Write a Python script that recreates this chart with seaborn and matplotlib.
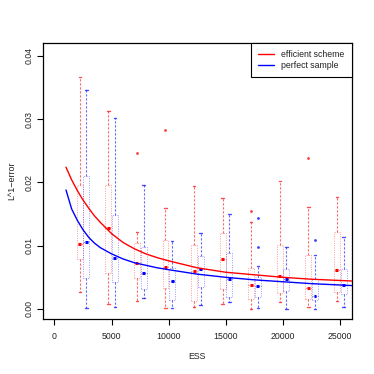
import matplotlib
matplotlib.use("Agg")
import matplotlib.pyplot as plt
from matplotlib.lines import Line2D
import seaborn as sns
import pandas as pd

# ---------------- data ----------------
ess_levels = [2500, 5000, 7500, 10000, 12500, 15000, 17500, 20000, 22500, 25000]

# efficient scheme (red) box statistics
eff_whislo = [0.00273, 0.00079, 0.00131, 0.00011, 0.00027, 0.00079, 0.00003, 0.00111, 0.00036, 0.00122]
eff_q1     = [0.00790, 0.00573, 0.00485, 0.00327, 0.00126, 0.00311, 0.00158, 0.00248, 0.00158, 0.00269]
eff_med    = [0.01022, 0.01272, 0.00724, 0.00668, 0.00605, 0.00795, 0.00379, 0.00521, 0.00336, 0.00616]
eff_q3     = [0.01959, 0.01959, 0.01047, 0.01090, 0.01011, 0.01196, 0.00643, 0.01011, 0.00853, 0.01224]
eff_whishi = [0.03665, 0.03133, 0.01209, 0.01591, 0.01935, 0.01757, 0.01379, 0.02027, 0.01619, 0.01777]
eff_fliers = [[], [], [0.0246], [0.0283], [], [], [0.01553], [], [0.02381], []]

# perfect sample (blue) box statistics
perf_whislo = [0.00021, 0.00036, 0.00174, 0.00011, 0.00063, 0.00106, 0.00011, 0.00000, 0.00005, 0.00032]
perf_q1     = [0.00485, 0.00419, 0.00321, 0.00142, 0.00352, 0.00194, 0.00182, 0.00284, 0.00142, 0.00237]
perf_med    = [0.01058, 0.00810, 0.00569, 0.00447, 0.00627, 0.00471, 0.00363, 0.00471, 0.00201, 0.00371]
perf_q3     = [0.02101, 0.01485, 0.00972, 0.00640, 0.00837, 0.00880, 0.00510, 0.00637, 0.00474, 0.00635]
perf_whishi = [0.03455, 0.03010, 0.01959, 0.01077, 0.01196, 0.01498, 0.00682, 0.00972, 0.00845, 0.01133]
perf_fliers = [[], [], [], [], [], [], [0.01445, 0.00984], [], [0.01082], []]

# fitted error curves
eff_curve_x = [1006, 1500, 2000, 2500, 3000, 3500, 4000, 5000, 6000, 7000, 8000, 9000,
               10000, 12500, 15000, 17500, 20000, 22500, 26002]
eff_curve_y = [0.0224, 0.0204, 0.0187, 0.0172, 0.0159, 0.0147, 0.0137, 0.0119, 0.0105,
               0.0095, 0.0087, 0.0081, 0.0076, 0.0065, 0.0058, 0.0054, 0.0050, 0.0047, 0.00442]
perf_curve_x = [1006, 1500, 2000, 2500, 3000, 3500, 4000, 5000, 6000, 7000, 8000, 9000,
                10000, 12500, 15000, 17500, 20000, 22500, 26002]
perf_curve_y = [0.0188, 0.0158, 0.0140, 0.0125, 0.0113, 0.0104, 0.0097, 0.0087, 0.0079,
                0.0073, 0.0069, 0.0065, 0.0062, 0.0055, 0.0050, 0.0046, 0.0043, 0.0040, 0.0037]

xticks = [0, 5000, 10000, 15000, 20000, 25000]
yticks = [0.00, 0.01, 0.02, 0.03, 0.04]
ytick_labels = ["0.00", "0.01", "0.02", "0.03", "0.04"]
series_names = ["efficient scheme", "perfect sample"]

# ---------------- plotting ----------------
sns.set_theme(style="ticks")
plt.rcParams["font.family"] = ["Liberation Sans", "DejaVu Sans"]

fig = plt.figure(figsize=(3.74, 3.74), dpi=100)
W = H = 374.0
ax = fig.add_axes([43 / W, 1 - 319.3 / H, (351.7 - 43) / W, (319.3 - 43) / H])

RED = "#ff0000"
BLUE = "#0000ff"

curves = pd.concat([
    pd.DataFrame({"ESS": eff_curve_x, "err": eff_curve_y, "series": series_names[0]}),
    pd.DataFrame({"ESS": perf_curve_x, "err": perf_curve_y, "series": series_names[1]}),
])
sns.lineplot(data=curves, x="ESS", y="err", hue="series", palette=[RED, BLUE],
             linewidth=1.0, ax=ax, legend=False, sort=False, zorder=3)


def stats(whislo, q1, med, q3, whishi, fliers):
    # notch limits set at the median itself -> R-like narrowed median mark
    return [dict(whislo=a, q1=b, med=c, q3=d, whishi=e, fliers=f, cilo=c, cihi=c)
            for a, b, c, d, e, f in zip(whislo, q1, med, q3, whishi, fliers)]


def draw_boxes(st, positions, color):
    dot = (0, (2.0, 1.6))
    ax.bxp(st, positions=positions, widths=520, capwidths=220,
           showfliers=True, shownotches=True, patch_artist=False, manage_ticks=False,
           boxprops=dict(color=color, linestyle=(0, (1.2, 1.6)), linewidth=0.6, alpha=0.45),
           whiskerprops=dict(color=color, linestyle=dot, linewidth=0.8, alpha=0.6),
           capprops=dict(color=color, linestyle="-", linewidth=1.0, alpha=0.7),
           medianprops=dict(color=color, linestyle="-", linewidth=2.2, solid_capstyle="butt"),
           flierprops=dict(marker="o", markersize=1.5, markerfacecolor=color,
                           markeredgecolor=color, markeredgewidth=0.4, alpha=0.75,
                           linestyle="none"))


draw_boxes(stats(eff_whislo, eff_q1, eff_med, eff_q3, eff_whishi, eff_fliers),
           [e - 290 for e in ess_levels], RED)
draw_boxes(stats(perf_whislo, perf_q1, perf_med, perf_q3, perf_whishi, perf_fliers),
           [e + 290 for e in ess_levels], BLUE)

ax.set_xlim(-1006, 26002)
ax.set_ylim(-0.00163, 0.04202)
ax.set_xticks(xticks)
ax.set_xticklabels([str(t) for t in xticks])
ax.set_yticks(yticks)
ax.set_yticklabels(ytick_labels, rotation=90, va="center")
ax.tick_params(axis="both", direction="out", length=4, width=0.8, labelsize=6.3,
               color="black", labelcolor="#222222")
ax.tick_params(axis="x", pad=5)
ax.tick_params(axis="y", pad=3)
for s in ax.spines.values():
    s.set_visible(True)
    s.set_color("black")
    s.set_linewidth(0.9)

ax.set_xlabel("ESS", fontsize=6.3, color="#222222", labelpad=8)
ax.set_ylabel("L^1\u2212error", fontsize=6.5, color="#222222", labelpad=6)

handles = [Line2D([], [], color=RED, lw=1.0), Line2D([], [], color=BLUE, lw=1.0)]
leg = ax.legend(handles, series_names, loc="upper right", bbox_to_anchor=(1, 1),
                borderaxespad=0, fancybox=False, framealpha=1, edgecolor="black",
                fontsize=6.3, handlelength=1.8, handletextpad=0.9, borderpad=0.8,
                labelspacing=0.25)
leg.get_frame().set_linewidth(0.8)
for t in leg.get_texts():
    t.set_color("#222222")

fig.savefig("out.png", dpi=100, facecolor="white")
